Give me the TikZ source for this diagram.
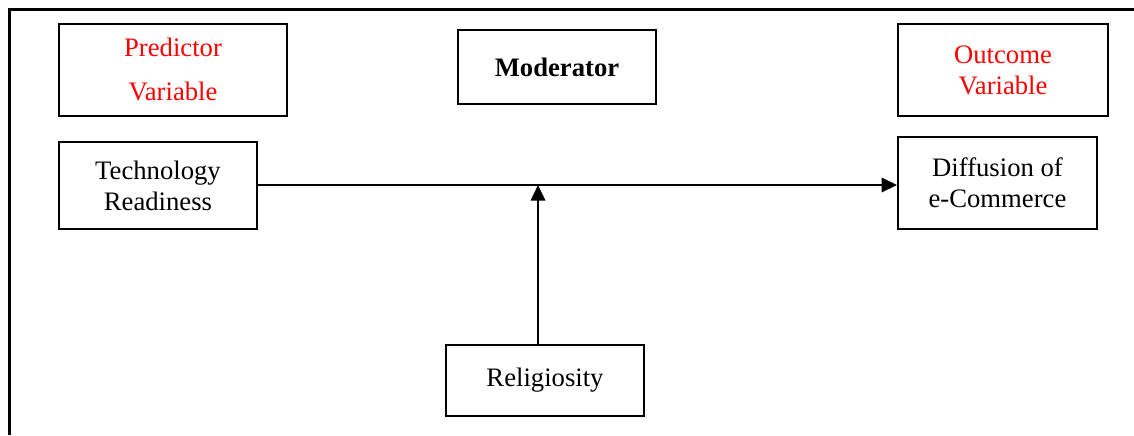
\documentclass[tikz,border=0pt]{standalone}
\usepackage{fontspec}
\setmainfont{Liberation Serif}
\usepackage{xcolor}
\usepackage{tikz}
\usetikzlibrary{calc,arrows.meta,positioning}
\tikzset{
  varbox/.style={draw, line width=0.9pt, align=center, text centered, inner sep=2pt, font=\fontsize{12}{14}\selectfont},
  headbox/.style={varbox, text=red},
  link/.style={line width=0.9pt, -{Triangle[length=7pt,width=6.5pt]}}
}

\begin{document}
\begin{tikzpicture}[x=0.45pt, y=-0.45pt]
  \useasboundingbox (0,0) rectangle (1134,435);
  % frame (left and top only)
  \draw[line width=1.3pt] (9.5,435) -- (9.5,9.5) -- (1134,9.5);

  % headings
  \node[headbox, minimum width=102.6pt, minimum height=41.4pt] (pred) at (173,69.5) {Predictor\\[6pt]Variable};
  \node[varbox, minimum width=89.1pt, minimum height=33.3pt, font=\fontsize{12}{14}\selectfont\bfseries] (mod) at (557,67) {Moderator};
  \node[headbox, minimum width=94.5pt, minimum height=41.4pt] (outc) at (1003,70) {Outcome\\Variable};

  % variables
  \node[varbox, minimum width=89.1pt, minimum height=39.2pt] (tech) at (158,185.8) {Technology\\Readiness};
  \node[varbox, minimum width=89.5pt, minimum height=41.7pt] (diff) at (997.5,183) {Diffusion of\\e-Commerce};
  \node[varbox, minimum width=89.1pt, minimum height=32pt] (relig) at (545,380.5) {Religiosity};

  % arrows
  \coordinate (join) at (538,185);
  \draw[link] (tech.east |- join) -- (diff.west |- join);
  \draw[link] (join |- relig.north) -- (join);
\end{tikzpicture}
\end{document}
